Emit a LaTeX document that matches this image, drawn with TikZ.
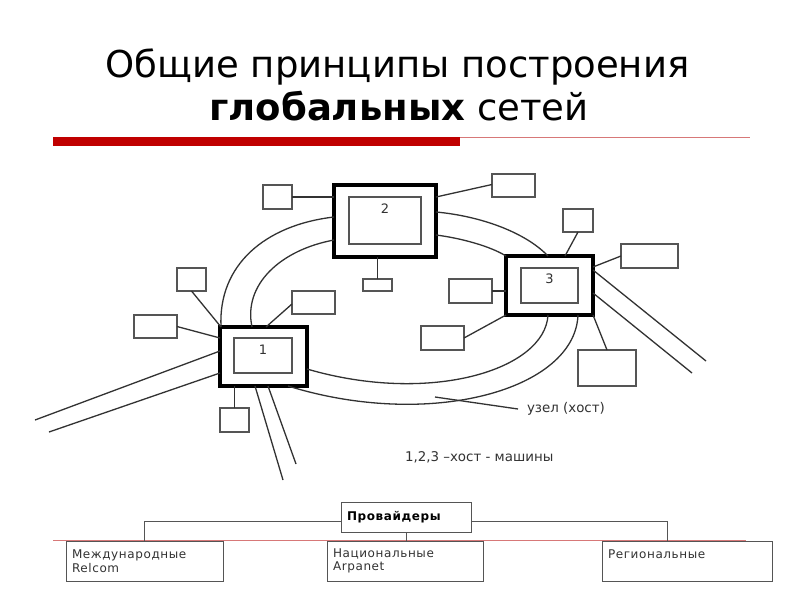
\documentclass[tikz,border=0pt]{standalone}
\usepackage{fontspec}
\setmainfont{DejaVu Sans}
\newfontfamily\boxfont[LetterSpace=5]{DejaVu Sans}
\usetikzlibrary{calc}
\definecolor{ln}{RGB}{50,50,50}
\definecolor{bx}{RGB}{85,85,85}
\definecolor{barred}{RGB}{192,0,0}
\definecolor{thinred}{RGB}{215,120,120}
\begin{document}
\begin{tikzpicture}[x=1pt,y=-1pt,
  every node/.style={inner sep=0pt, outer sep=0pt},
  hostout/.style={draw=black, line width=3.6pt},
  hostin/.style={draw=bx, line width=1.4pt},
  pbox/.style={draw=bx, line width=1.4pt},
  conn/.style={draw=ln, line width=1.3pt},
  ring/.style={draw=ln, line width=1.3pt},
  numlbl/.style={font=\fontsize{13}{15}\selectfont, text=ln},
  lbl/.style={font=\fontsize{13.4}{16}\selectfont, text=ln},
  tbox/.style={draw=bx, line width=1pt, fill=white, align=left, inner xsep=6pt,
    font=\boxfont\fontsize{12}{13.5}\selectfont, text=ln},
  ttl/.style={font=\fontsize{37}{43}\selectfont, anchor=base}
]
\useasboundingbox (0,0) rectangle (800,600);
\fill[white] (0,0) rectangle (800,600);

% title
\node[ttl] (t1) at (397.5,77) {Общие принципы построения};
\node[ttl] (t2) at (399,120) {\textbf{глобальных} сетей};
\fill[barred] (53,137) rectangle (460,146);
\draw[thinred, line width=1pt] (460,137.5) -- (750,137.5);

% hosts
\node[hostout, minimum width=87pt, minimum height=59pt] (h1) at (263.5,356.5) {};
\node[hostin, minimum width=58pt, minimum height=35pt] (h1i) at (263,355.5) {};
\node[numlbl] (n1) at ([yshift=-12pt]h1i.north) {1};
\node[hostout, minimum width=102pt, minimum height=72pt] (h2) at (385,221) {};
\node[hostin, minimum width=72pt, minimum height=47pt] (h2i) at (385,220.5) {};
\node[numlbl] (n2) at ([yshift=-12pt]h2i.north) {2};
\node[hostout, minimum width=87pt, minimum height=59pt] (h3) at (549.5,285.5) {};
\node[hostin, minimum width=57pt, minimum height=35pt] (h3i) at (549.5,285.5) {};
\node[numlbl] (n3) at ([yshift=-11pt]h3i.north) {3};

% peripheral boxes
\node[pbox, minimum width=29pt, minimum height=24pt] (b2l) at (277.5,197) {};
\node[pbox, minimum width=29pt, minimum height=12pt] (b2b) at (377.5,285) {};
\node[pbox, minimum width=43pt, minimum height=23pt] (b2tr) at (513.5,185.5) {};
\node[pbox, minimum width=29pt, minimum height=23pt] (b1tl) at (191.5,279.5) {};
\node[pbox, minimum width=43pt, minimum height=23pt] (b1l) at (155.5,326.5) {};
\node[pbox, minimum width=43pt, minimum height=23pt] (b1tr) at (313.5,302.5) {};
\node[pbox, minimum width=29pt, minimum height=24pt] (b1b) at (234.5,420) {};
\node[pbox, minimum width=30pt, minimum height=23pt] (b3t) at (578,220.5) {};
\node[pbox, minimum width=57pt, minimum height=24pt] (b3r) at (649.5,256) {};
\node[pbox, minimum width=43pt, minimum height=24pt] (b3l) at (470.5,291) {};
\node[pbox, minimum width=43pt, minimum height=24pt] (b3bl) at (442.5,338) {};
\node[pbox, minimum width=58pt, minimum height=36pt] (b3br) at (607,368) {};

% connectors to peripheral boxes
\draw[conn] (b2l.east) -- (b2l.east -| h2.west);
\draw[conn] (b2b.north) -- (b2b.north |- h2.south);
\draw[conn] ([yshift=1pt]b2tr.west) -- ([yshift=-12pt]h2.north east);
\draw[conn] (b1tl.south) -- ([xshift=1pt]h1.north west);
\draw[conn] (b1l.east) -- ([yshift=-11pt]h1.north west);
\draw[conn] ([yshift=-1.5pt]b1tr.west) -- ([xshift=46pt]h1.north west);
\draw[conn] (b1b.north) -- (b1b.north |- h1.south);
\draw[conn] (b3t.south) -- ([xshift=59pt]h3.north west);
\draw[conn] (b3r.west) -- ([yshift=-11pt]h3.north east);
\draw[conn] (b3l.east) -- (b3l.east -| h3.west);
\draw[conn] (b3bl.east) -- (h3.south west);
\draw[conn] (b3br.north) -- (h3.south east);

% long lines leaving the hosts
\coordinate (e1) at (35,420);
\coordinate (e2) at (49,432);
\coordinate (e3) at (283,480);
\coordinate (e4) at (296,464);
\coordinate (e5) at (706,361);
\coordinate (e6) at (692,373);
\draw[conn] ([yshift=-24pt]h1.north west) -- (e1);
\draw[conn] ([yshift=-46pt]h1.north west) -- (e2);
\draw[conn] ([xshift=35pt]h1.south west) -- (e3);
\draw[conn] ([xshift=48pt]h1.south west) -- (e4);
\draw[conn] ([yshift=-14pt]h3.north east) -- (e5);
\draw[conn] ([yshift=-37pt]h3.north east) -- (e6);

% ring
\draw[ring] ([xshift=1pt]h1.north west) .. controls (218,265) and (265,225) .. ([yshift=-32pt]h2.north west);
\draw[ring] ([xshift=32pt]h1.north west) .. controls (243,285) and (280,250) .. ([yshift=-55pt]h2.north west);
\draw[ring] ([yshift=-27pt]h2.north east) .. controls (480,216) and (525,232) .. ([xshift=42pt]h3.north west);
\draw[ring] ([yshift=-50pt]h2.north east) .. controls (460,238) and (490,246) .. (h3.north west);
\draw[ring] ([xshift=42pt]h3.south west) .. controls (545,370) and (430,405) .. ([yshift=-42pt]h1.north east);
\draw[ring] ([xshift=72pt]h3.south west) .. controls (575,390) and (430,430) .. ([xshift=68pt]h1.south west);

% labels
\node[lbl, anchor=west] (uz) at (527,409) {узел (хост)};
\coordinate (lp) at (435,397);
\draw[conn] (lp) -- ([xshift=-9pt]uz.west);
\node[lbl, anchor=west] (leg) at (405,457) {1,2,3 –хост - машины};

% providers
\draw[thinred, line width=1pt] (53,540) -- (746,540);
\node[tbox, minimum width=130pt, minimum height=30pt, text width=118pt,
  font=\boxfont\bfseries\fontsize{12}{13.5}\selectfont, text=black] (prov) at (406,517) {Провайдеры};
\node[tbox, minimum width=157pt, minimum height=40pt, text width=145pt] (bint) at (144.5,561) {Международные\\Relcom};
\node[tbox, minimum width=156pt, minimum height=40pt, text width=144pt] (bnat) at (405,561) {Национальные\\Arpanet};
\node[tbox, minimum width=170pt, minimum height=40pt, text width=158pt] (breg) at (687,561) {Региональные\\~};
\draw[bx, line width=1pt] ([yshift=-4.5pt]prov.west) -| (bint.north);
\draw[bx, line width=1pt] ([yshift=-4.5pt]prov.east) -| ([xshift=65pt]breg.north west);
\draw[bx, line width=1pt] (prov.south) -- (prov.south |- bnat.north);
\end{tikzpicture}
\end{document}
